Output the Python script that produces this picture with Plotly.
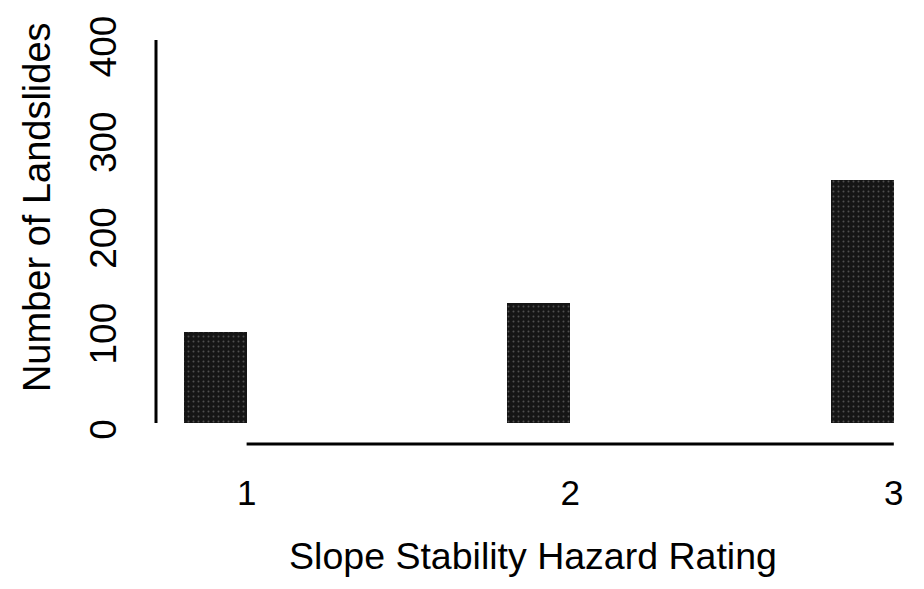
from pathlib import Path

import plotly.graph_objects as go

ratings = [1, 2, 3]
landslides = [95, 125, 254]

y_ticks = [0, 100, 200, 300, 400]
y_tick_labels = ['0', '100', '200', '300', '400']

x_title = 'Slope Stability Hazard Rating'
y_title = 'Number of Landslides'

FONT = 'Liberation Sans, Arial, Helvetica, sans-serif'
BAR_WIDTH = 0.195


def build_landslide_bars():
    fig = go.Figure(
        data=[
            go.Bar(
                x=ratings,
                y=landslides,
                width=BAR_WIDTH,
                offset=-BAR_WIDTH,  # bars sit just left of their tick, as in the scan
                marker=dict(
                    color='#151515',
                    line=dict(width=0),
                    pattern=dict(shape='.', fgcolor='#8a8a8a', size=5, solidity=0.12),
                ),
                showlegend=False,
            )
        ]
    )

    # R-style detached axis lines
    fig.add_shape(type='line', xref='paper', yref='y', x0=0, x1=0,
                  y0=min(y_ticks), y1=max(y_ticks), line=dict(color='black', width=3))
    fig.add_shape(type='line', xref='x', yref='paper', x0=min(ratings), x1=max(ratings),
                  y0=0, y1=0, line=dict(color='black', width=3))

    # y title sits a bit above the middle of the axis in the original
    fig.add_annotation(
        text=y_title, textangle=-90, showarrow=False,
        xref='paper', yref='paper', x=0, y=0.585,
        xanchor='center', yanchor='middle', xshift=-119,
        font=dict(size=38),
    )

    fig.update_layout(
        width=924,
        height=589,
        margin=dict(l=148, r=22, t=31, b=153),
        paper_bgcolor='white',
        plot_bgcolor='white',
        font=dict(family=FONT, color='black'),
        bargap=0,
    )
    fig.update_xaxes(
        range=[0.72, 3.05],
        tickvals=ratings,
        ticktext=[str(r) for r in ratings],
        tickfont=dict(size=35),
        ticks='',
        ticklabelstandoff=25,
        showgrid=False,
        zeroline=False,
        showline=False,
        automargin=False,
        title=dict(text=x_title, font=dict(size=37.5), standoff=31),
    )
    fig.update_yaxes(
        range=[-22, 401],
        tickvals=y_ticks,
        ticktext=y_tick_labels,
        tickangle=-90,
        tickfont=dict(size=37),
        ticks='',
        ticklabelstandoff=32,
        ticklabelshift=12,
        ticklabeloverflow='allow',
        showgrid=False,
        zeroline=False,
        showline=False,
        automargin=False,
    )
    return fig


def main():
    output_path = Path('out.html')
    fig = build_landslide_bars()
    fig.write_html(str(output_path))
    print(f'generated {output_path}')


if __name__ == '__main__':
    main()
